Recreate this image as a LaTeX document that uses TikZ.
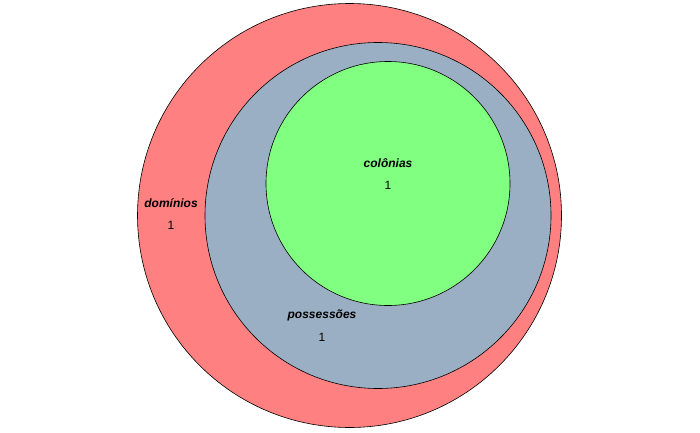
\documentclass[tikz,border=0pt]{standalone}
\usepackage{fontspec}
\setmainfont{Liberation Sans}
\begin{document}
\begin{tikzpicture}[x=1pt,y=1pt,
  setc/.style={draw=black,line width=0.6pt},
  lab/.style={font=\fontsize{12}{14}\selectfont\bfseries\itshape,inner sep=0pt},
  num/.style={font=\fontsize{12}{14}\selectfont,inner sep=0pt}]
\useasboundingbox (0,0) rectangle (700,432);
\definecolor{cred}{HTML}{FF8080}
\definecolor{cblue}{HTML}{9AAFC4}
\definecolor{cgreen}{HTML}{80FF80}
\node[setc,fill=cred,circle,minimum size=424pt,inner sep=0pt] (dom) at (349.5,216.5) {};
\node[setc,fill=cblue,circle,minimum size=346pt,inner sep=0pt] (pos) at (378,216.5) {};
\node[setc,fill=cgreen,circle,minimum size=244pt,inner sep=0pt] (col) at (388,248.5) {};
\node[lab] (tdom) at (171,229) {domínios};
\node[num] (ndom) at (171,207) {1};
\node[lab] (tcol) at (388,269) {colônias};
\node[num] (ncol) at (388,247) {1};
\node[lab] (tpos) at (322,117) {possessões};
\node[num] (npos) at (322,95) {1};
\end{tikzpicture}
\end{document}
